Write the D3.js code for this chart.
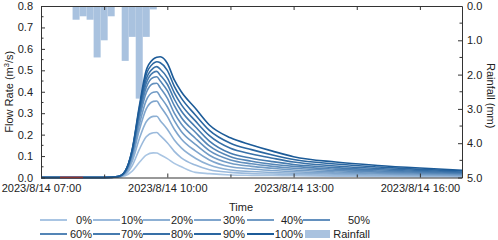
<!DOCTYPE html>
<html>
<head>
<meta charset="utf-8">
<script src="https://cdn.jsdelivr.net/npm/d3@7/dist/d3.min.js"></script>
<style>
  html, body { margin: 0; padding: 0; background: #fff; }
  svg { display: block; font-family: "Liberation Sans", Arial, sans-serif; }
</style>
</head>
<body>
<svg id="chart" width="498" height="240"></svg>
<script>
// ---------------- data ----------------
const day = "2023/8/14";
const times = ["07:00","08:30","08:50","09:00","09:10","09:20","09:30","09:40","09:45","09:50","10:00","10:10","10:20","10:40","11:00","11:30","12:00","12:30","13:00","14:00","15:00","16:00","17:00"];
const seriesNames = ["0%","10%","20%","30%","40%","50%","60%","70%","80%","90%","100%"];
const flow0   = [0,0,0.001,0.008,0.030,0.070,0.104,0.115,0.114,0.106,0.088,0.066,0.050,0.024,0.018,0.012,0.010,0.009,0.008,0.006,0.005,0.004,0.003];
const flow10  = [0,0,0.002,0.013,0.055,0.130,0.190,0.209,0.210,0.195,0.162,0.122,0.092,0.058,0.036,0.024,0.019,0.016,0.014,0.010,0.008,0.007,0.005];
const flow20  = [0,0,0.003,0.017,0.075,0.180,0.260,0.285,0.286,0.265,0.225,0.175,0.138,0.090,0.058,0.035,0.028,0.023,0.020,0.015,0.012,0.010,0.008];
const flow30  = [0,0,0.003,0.020,0.090,0.220,0.320,0.355,0.357,0.333,0.285,0.225,0.180,0.124,0.082,0.050,0.040,0.033,0.027,0.020,0.016,0.013,0.010];
const flow40  = [0,0,0.004,0.023,0.100,0.245,0.360,0.398,0.400,0.377,0.330,0.265,0.215,0.155,0.104,0.066,0.052,0.043,0.035,0.026,0.020,0.016,0.013];
const flow50  = [0,0,0.004,0.025,0.110,0.270,0.395,0.438,0.440,0.418,0.370,0.300,0.250,0.183,0.125,0.082,0.064,0.052,0.043,0.032,0.025,0.020,0.016];
const flow60  = [0,0,0.004,0.027,0.115,0.285,0.420,0.467,0.470,0.450,0.405,0.335,0.280,0.211,0.147,0.097,0.076,0.062,0.052,0.039,0.030,0.024,0.019];
const flow70  = [0,0,0.005,0.028,0.120,0.300,0.440,0.490,0.495,0.477,0.435,0.365,0.310,0.237,0.170,0.113,0.090,0.074,0.061,0.046,0.036,0.028,0.022];
const flow80  = [0,0,0.005,0.030,0.125,0.310,0.460,0.510,0.517,0.505,0.465,0.395,0.340,0.264,0.195,0.136,0.110,0.090,0.072,0.054,0.042,0.033,0.026];
const flow90  = [0,0,0.005,0.030,0.130,0.320,0.480,0.532,0.540,0.535,0.500,0.425,0.370,0.292,0.220,0.160,0.130,0.105,0.084,0.063,0.049,0.038,0.030];
const flow100 = [0,0,0.005,0.030,0.130,0.330,0.500,0.552,0.561,0.563,0.533,0.455,0.400,0.323,0.245,0.185,0.152,0.123,0.097,0.072,0.056,0.044,0.034];
const flowSeries = [flow0,flow10,flow20,flow30,flow40,flow50,flow60,flow70,flow80,flow90,flow100];

const obsTimes  = ["07:27","08:00"];
const obsValues = [0, 0];

const rainStart = ["07:45","07:55","08:05","08:15","08:25","08:35","08:45","08:55","09:05","09:15","09:25","09:35"];
const rainMM    = [0.4, 0.3, 0.4, 1.5, 1.0, 0.3, 0.0, 1.6, 0.9, 2.7, 0.9, 0.1];
const rainStepMin = 10;

const xTickTimes = ["07:00","08:30","10:00","11:30","13:00","14:30","16:00"];
const xLabelTimes = ["07:00","10:00","13:00","16:00"];
const flowTicks = [0,0.1,0.2,0.3,0.4,0.5,0.6,0.7,0.8];
const rainTicks = [0,1,2,3,4,5];

// ---------------- setup ----------------
const parse = d3.timeParse("%Y/%m/%d %H:%M");
const T = s => parse(day + " " + s);
const svg = d3.select("#chart");
const L = 41, R = 462, TOP = 6, BOT = 177.5;

const x = d3.scaleTime().domain([T("07:00"), T("17:00")]).range([L, R]);
const y = d3.scaleLinear().domain([0, 0.8]).range([BOT, TOP]);
const yR = d3.scaleLinear().domain([0, 5]).range([TOP, BOT]);

const color = d3.scaleLinear().domain([0, seriesNames.length - 1])
  .range(["#a9c5e3", "#1c5b98"]).interpolate(d3.interpolateRgb);
const rainColor = "#a9c2df";
const axisColor = "#333";
const fontSize = 11;

// rainfall bars
svg.append("g").selectAll("rect").data(rainStart).join("rect")
  .attr("x", (d) => x(T(d)))
  .attr("width", (d) => x(new Date(T(d).getTime() + rainStepMin*60000)) - x(T(d)))
  .attr("y", yR(0))
  .attr("height", (d, i) => yR(rainMM[i]) - yR(0))
  .attr("fill", rainColor);

// lines
const line = d3.line().x(d => x(d[0])).y(d => y(d[1])).curve(d3.curveMonotoneX);
const tDates = times.map(T);
flowSeries.forEach((vals, i) => {
  svg.append("path")
    .datum(tDates.map((t, j) => [t, vals[j]]))
    .attr("d", line).attr("fill", "none")
    .attr("stroke", color(i)).attr("stroke-width", 1.6);
});
svg.append("path")
  .datum(obsTimes.map((t, j) => [T(t), obsValues[j]]))
  .attr("d", line).attr("fill", "none")
  .attr("stroke", "#d9372b").attr("stroke-width", 1.6);

// axes
function styleAxis(g) {
  g.selectAll("path.domain").attr("stroke", axisColor).attr("stroke-width", 1);
  g.selectAll(".tick line").attr("stroke", axisColor);
  g.selectAll("text").attr("fill", "#222").style("font-size", fontSize + "px")
    .style("font-family", '"Liberation Sans", Arial, sans-serif');
}
const fmtX = d => xLabelTimes.some(s => +T(s) === +d)
  ? `${d.getFullYear()}/${d.getMonth()+1}/${d.getDate()} ${d3.timeFormat("%H:%M")(d)}` : "";

const gxB = svg.append("g").attr("transform", `translate(0,${BOT})`)
  .call(d3.axisBottom(x).tickValues(xTickTimes.map(T)).tickFormat(fmtX)
    .tickSizeInner(-4).tickSizeOuter(0).tickPadding(7));
styleAxis(gxB);
gxB.selectAll(".tick line").attr("y2", (d) => xLabelTimes.some(s => +T(s) === +d) ? -4 : -3);

const gxT = svg.append("g").attr("transform", `translate(0,${TOP})`)
  .call(d3.axisTop(x).tickValues(xTickTimes.map(T)).tickFormat("")
    .tickSizeInner(-4).tickSizeOuter(0));
styleAxis(gxT);

const gyL = svg.append("g").attr("transform", `translate(${L},0)`)
  .call(d3.axisLeft(y).tickValues(flowTicks).tickFormat(d3.format(".1f"))
    .tickSizeInner(-4).tickSizeOuter(0).tickPadding(8));
styleAxis(gyL);
const minorL = d3.range(0.05, 0.8, 0.1);
svg.append("g").selectAll("line").data(minorL).join("line")
  .attr("x1", L).attr("x2", L + 2.5).attr("y1", d => y(d)).attr("y2", d => y(d))
  .attr("stroke", axisColor);

const gyR = svg.append("g").attr("transform", `translate(${R},0)`)
  .call(d3.axisRight(yR).tickValues(rainTicks).tickFormat(d3.format(".1f"))
    .tickSizeInner(-4).tickSizeOuter(0).tickPadding(5));
styleAxis(gyR);
const minorR = d3.range(0.5, 5, 1);
svg.append("g").selectAll("line").data(minorR).join("line")
  .attr("x1", R).attr("x2", R - 2.5).attr("y1", d => yR(d)).attr("y2", d => yR(d))
  .attr("stroke", axisColor);

// titles
svg.append("text").attr("x", 241).attr("y", 211).attr("text-anchor", "middle")
  .style("font-size", fontSize + "px").attr("fill", "#222").text("Time");
const ylab = svg.append("text").attr("transform", `translate(13,${(TOP+BOT)/2}) rotate(-90)`)
  .attr("text-anchor", "middle").style("font-size", fontSize + "px").attr("fill", "#222");
ylab.append("tspan").text("Flow Rate (m");
ylab.append("tspan").attr("dy", -4).style("font-size", "7.5px").text("3");
ylab.append("tspan").attr("dy", 4).text("/s)");
svg.append("text").attr("transform", `translate(487,${(TOP+BOT)/2 + 4}) rotate(90)`)
  .attr("text-anchor", "middle").style("font-size", fontSize + "px").attr("fill", "#222")
  .text("Rainfall (mm)");

// legend
const legendItems = seriesNames.map((n, i) => ({name: n, type: "line", color: color(i)}))
  .concat([{name: "Rainfall", type: "rect", color: rainColor}]);
const colStart = [40, 93, 143, 194, 247, 303];
const colEnd   = [92, 143, 193, 245, 303, 370];
const rowY = [220, 234];
legendItems.forEach((it, k) => {
  const row = Math.floor(k / 6), col = k % 6;
  const g = svg.append("g");
  const yy = rowY[row];
  if (it.type === "line") {
    g.append("line").attr("x1", colStart[col]).attr("x2", colStart[col] + 27)
      .attr("y1", yy).attr("y2", yy).attr("stroke", it.color).attr("stroke-width", 2);
  } else {
    g.append("rect").attr("x", colStart[col] + 2).attr("width", 25)
      .attr("y", yy - 4).attr("height", 8).attr("fill", it.color);
  }
  g.append("text").attr("x", colEnd[col]).attr("y", yy + 4).attr("text-anchor", "end")
    .style("font-size", fontSize + "px").attr("fill", "#222").text(it.name);
});
</script>
</body>
</html>
